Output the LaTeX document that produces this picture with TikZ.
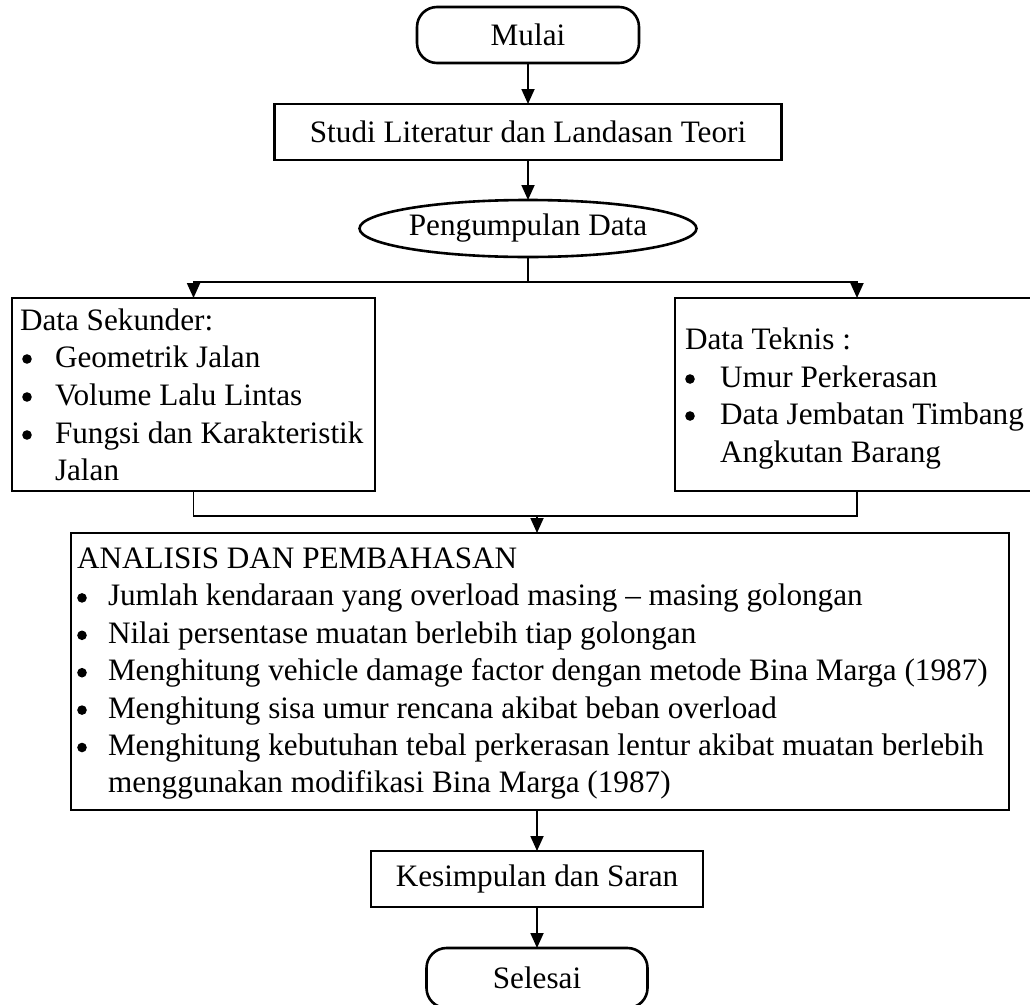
\documentclass[tikz,border=0pt]{standalone}
\usepackage{fontspec}
\setmainfont{Liberation Serif}
\usetikzlibrary{shapes.geometric,arrows.meta}
\begin{document}
\begin{tikzpicture}[x=1pt,y=-1pt,
  every node/.style={font=\fontsize{31.2}{37.5}\selectfont, inner sep=0pt, outer sep=0pt},
  box/.style={draw, line width=2.6pt, rectangle},
  term/.style={draw, line width=2.6pt, rounded corners=20pt},
  oval/.style={draw, ellipse, line width=2.6pt},
  txt/.style={anchor=base west},
  conn/.style={line width=1.8pt},
  arr/.style={conn, -{Triangle[length=15pt,width=13pt]}},
  bul/.style={radius=4.8pt}]
\useasboundingbox (0,0) rectangle (1030,1004);
\fill[white] (0,0) rectangle (1030,1004);

% main boxes
\node[term, minimum width=222pt, minimum height=56pt] (mulai) at (528,35) {Mulai};
\node[box, minimum width=507pt, minimum height=56pt] (studi) at (528,132) {Studi Literatur dan Landasan Teori};
\node[oval, minimum width=333pt, minimum height=57pt] (data) at (528,228.5) {Pengumpulan Data};
\node[box, minimum width=363pt, minimum height=193pt] (sek) at (193.5,394.5) {};
\node[box, minimum width=364pt, minimum height=193pt] (tek) at (857,394.5) {};
\node[box, minimum width=938pt, minimum height=277pt] (ana) at (540,671.5) {};
\node[box, minimum width=332pt, minimum height=56pt] (kes) at (537,879) {Kesimpulan dan Saran};
\node[term, minimum width=221pt, minimum height=60pt] (sel) at (537,978) {Selesai};

% Data Sekunder
\node[txt] (s0) at (20,330) {Data Sekunder:};
\node[txt] (s1) at (55,367) {Geometrik Jalan};
\node[txt] (s2) at (55,405) {Volume Lalu Lintas};
\node[txt] (s3) at (55,443) {Fungsi dan Karakteristik};
\node[txt] (s4) at (55,480) {Jalan};
\fill (27,359) circle[bul];
\fill (27,397) circle[bul];
\fill (27,435) circle[bul];

% Data Teknis
\node[txt] (t0) at (685,349) {Data Teknis :};
\node[txt] (t1) at (720,387) {Umur Perkerasan};
\node[txt] (t2) at (720,424) {Data Jembatan Timbang};
\node[txt] (t3) at (720,462) {Angkutan Barang};
\fill (690,379) circle[bul];
\fill (690,416) circle[bul];

% Analisis
\node[txt] (a0) at (77,568.5) {ANALISIS DAN PEMBAHASAN};
\node[txt] (a1) at (108,605.9) {Jumlah kendaraan yang overload masing – masing golongan};
\node[txt] (a2) at (108,643.3) {Nilai persentase muatan berlebih tiap golongan};
\node[txt] (a3) at (108,680.7) {Menghitung vehicle damage factor dengan metode Bina Marga (1987)};
\node[txt] (a4) at (108,718.1) {Menghitung sisa umur rencana akibat beban overload};
\node[txt] (a5) at (108,755.5) {Menghitung kebutuhan tebal perkerasan lentur akibat muatan berlebih};
\node[txt] (a6) at (108,792.9) {menggunakan modifikasi Bina Marga (1987)};
\fill (82,597.9) circle[bul];
\fill (82,635.3) circle[bul];
\fill (82,672.7) circle[bul];
\fill (82,710.1) circle[bul];
\fill (82,747.5) circle[bul];

% connectors
\coordinate (split) at (528,282);
\coordinate (join) at (537,516);
\draw[arr] (mulai.south) -- (studi.north);
\draw[arr] (studi.south) -- (data.north);
\draw[conn] (data.south) -- (split);
\draw[arr] (split) -| (sek.north);
\draw[arr] (split) -| (tek.north);
\draw[conn] (sek.south) |- (join);
\draw[conn] (tek.south) |- (join);
\draw[arr] (join) -- (join |- ana.north);
\draw[arr] (kes.north |- ana.south) -- (kes.north);
\draw[arr] (kes.south) -- (sel.north);
\end{tikzpicture}
\end{document}
